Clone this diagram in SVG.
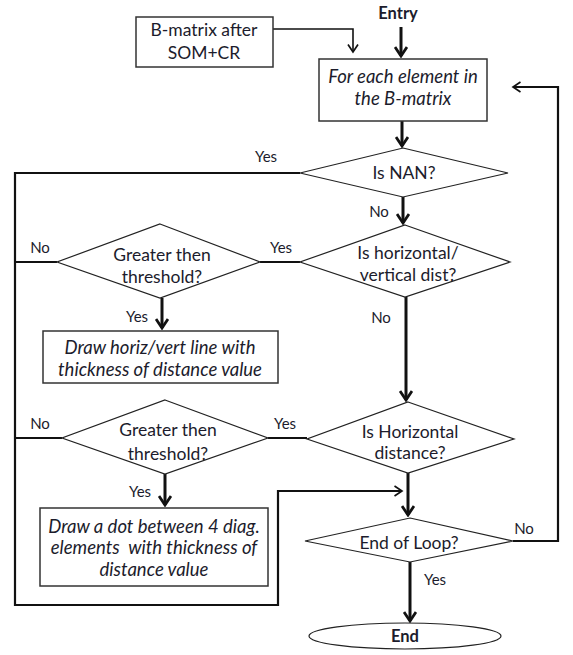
<svg xmlns="http://www.w3.org/2000/svg" width="573" height="655" viewBox="0 0 573 655">
  <style>
    .shape { fill: #ffffff; stroke: #222222; stroke-width: 1.2; }
    .box { fill: #ffffff; stroke: #333333; stroke-width: 1.5; }
    .lbl { font-family: Lato, "Open Sans", "Liberation Sans", sans-serif; font-size: 17.5px; fill: #1c1c2c; text-anchor: middle; }
    .it { font-style: italic; font-size: 18.5px; }
    .bold { font-weight: bold; font-size: 16.5px; }
    .small { font-size: 15px; }
    .pre { white-space: pre; }
    .flow { fill: none; stroke: #111111; stroke-width: 3; }
    .link { fill: none; stroke: #111111; stroke-width: 2.2; }
    .thin { fill: none; stroke: #111111; stroke-width: 1.6; }
  </style>
  <defs>
    <marker id="head" viewBox="0 0 12 14" refX="10" refY="7" markerWidth="12" markerHeight="14" markerUnits="userSpaceOnUse" orient="auto">
      <path d="M1,1 L10,7 L1,13" fill="none" stroke="#111111" stroke-width="2.8"/>
    </marker>
    <marker id="headThin" viewBox="0 0 12 14" refX="10" refY="7" markerWidth="10" markerHeight="12" markerUnits="userSpaceOnUse" orient="auto">
      <path d="M1,1 L10,7 L1,13" fill="none" stroke="#111111" stroke-width="2"/>
    </marker>
  </defs>

  <rect width="573" height="655" fill="#ffffff"/>

  <!-- connectors -->
  <g id="connectors">
    <path class="thin" d="M273,29 H353 V52" marker-end="url(#headThin)"/>
    <path class="flow" d="M401,27 V56" marker-end="url(#head)"/>
    <path class="flow" d="M402,121 V146" marker-end="url(#head)"/>
    <path class="flow" d="M403,197 V223" marker-end="url(#head)"/>
    <path class="flow" d="M406,297 V400" marker-end="url(#head)"/>
    <path class="flow" d="M408,473 V515" marker-end="url(#head)"/>
    <path class="flow" d="M410,562 V621" marker-end="url(#head)"/>
    <path class="flow" d="M162,298 V328" marker-end="url(#head)"/>
    <path class="flow" d="M165,474 V505" marker-end="url(#head)"/>
    <!-- yes links between diamonds -->
    <path class="link" d="M260,262 H300"/>
    <path class="link" d="M268,438 H307"/>
    <!-- left return bus -->
    <path class="link" d="M300,173 H15 V605 H278 V491 H402" marker-end="url(#headThin)"/>
    <path class="link" d="M57,262 H15"/>
    <path class="link" d="M62,438 H15"/>
    <!-- loop back -->
    <path class="link" d="M513,541 H558 V87 H513" marker-end="url(#headThin)"/>
  </g>

  <!-- edge labels -->
  <g id="edge-labels">
    <text class="lbl small" x="266" y="162">Yes</text>
    <text class="lbl small" x="379" y="217">No</text>
    <text class="lbl small" x="40" y="253">No</text>
    <text class="lbl small" x="281" y="253">Yes</text>
    <text class="lbl small" x="137" y="322">Yes</text>
    <text class="lbl small" x="381" y="323">No</text>
    <text class="lbl small" x="40" y="429">No</text>
    <text class="lbl small" x="285" y="429">Yes</text>
    <text class="lbl small" x="140" y="497">Yes</text>
    <text class="lbl small" x="524" y="534">No</text>
    <text class="lbl small" x="435" y="585">Yes</text>
  </g>

  <g id="entry">
    <text class="lbl bold" x="398" y="19">Entry</text>
  </g>

  <g id="b-matrix">
    <rect class="box" x="136" y="17" width="137" height="50"/>
    <text class="lbl" x="204" y="36">B-matrix after</text>
    <text class="lbl" x="204" y="59">SOM+CR</text>
  </g>

  <g id="for-each">
    <rect class="box" x="319" y="59" width="168" height="62"/>
    <text class="lbl it" x="403" y="83">For each element in</text>
    <text class="lbl it" x="403" y="105">the B-matrix</text>
  </g>

  <g id="is-nan">
    <polygon class="shape" points="403,148 508,173 403,197 300,173"/>
    <text class="lbl" x="404" y="179">Is NAN?</text>
  </g>

  <g id="is-hv-dist">
    <polygon class="shape" points="405,225 510,262 405,297 300,262"/>
    <text class="lbl" x="408" y="259">Is horizontal/</text>
    <text class="lbl" x="408" y="281">vertical dist?</text>
  </g>

  <g id="threshold-1">
    <polygon class="shape" points="160,224 260,262 160,298 57,262"/>
    <text class="lbl" x="162" y="261">Greater then</text>
    <text class="lbl" x="162" y="283">threshold?</text>
  </g>

  <g id="draw-line">
    <rect class="box" x="43" y="331" width="235" height="52"/>
    <text class="lbl it" x="160" y="354">Draw horiz/vert line with</text>
    <text class="lbl it" x="160" y="376">thickness of distance value</text>
  </g>

  <g id="is-horizontal">
    <polygon class="shape" points="408,402 514,439 408,473 307,439"/>
    <text class="lbl" x="410" y="438">Is Horizontal</text>
    <text class="lbl" x="410" y="459">distance?</text>
  </g>

  <g id="threshold-2">
    <polygon class="shape" points="165,400 268,438 165,474 62,438"/>
    <text class="lbl" x="168" y="436">Greater then</text>
    <text class="lbl" x="168" y="460">threshold?</text>
  </g>

  <g id="draw-dot">
    <rect class="box" x="40" y="508" width="228" height="78"/>
    <text class="lbl it" x="154" y="533">Draw a dot between 4 diag.</text>
    <text class="lbl it pre" x="154" y="554">elements  with thickness of</text>
    <text class="lbl it" x="154" y="576">distance value</text>
  </g>

  <g id="end-of-loop">
    <polygon class="shape" points="410,518 513,541 410,562 305,541"/>
    <text class="lbl" x="409" y="549">End of Loop?</text>
  </g>

  <g id="end">
    <ellipse class="shape" cx="405" cy="636" rx="96" ry="13"/>
    <text class="lbl bold" x="405" y="642">End</text>
  </g>
</svg>
